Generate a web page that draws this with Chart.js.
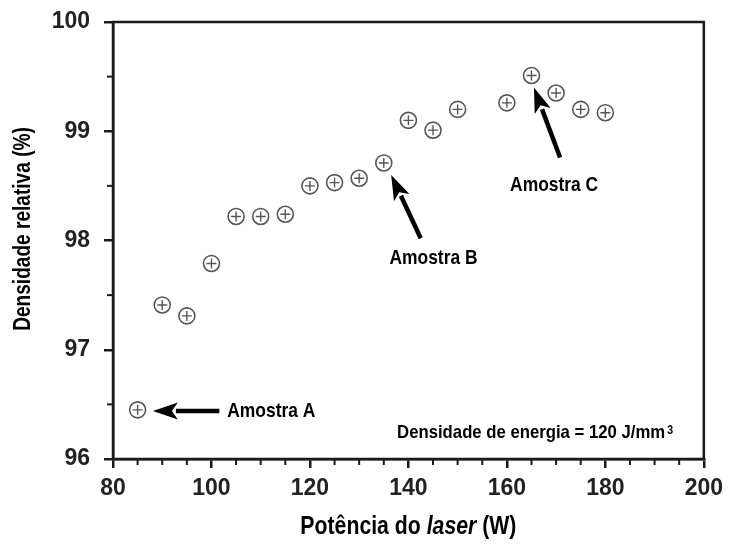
<!DOCTYPE html>
<html>
<head>
<meta charset="utf-8">
<script src="https://cdn.jsdelivr.net/npm/chart.js@4/dist/chart.umd.min.js"></script>
<style>
  html, body { margin: 0; padding: 0; background: #fff; }
  #wrap { width: 730px; height: 547px; }
</style>
</head>
<body>
<div id="wrap"><canvas id="c" width="730" height="547"></canvas></div>
<script>
// ---- data ----
const power   = [85, 90, 95, 100, 105, 110, 115, 120, 125, 130, 135, 140, 145, 150, 160, 165, 170, 175, 180];
const density = [96.45, 97.41, 97.31, 97.79, 98.22, 98.22, 98.24, 98.50, 98.53, 98.57, 98.71, 99.10, 99.01, 99.20, 99.26, 99.51, 99.35, 99.20, 99.17];
const xTicks  = [80, 100, 120, 140, 160, 180, 200];
const yTicks  = [96, 97, 98, 99, 100];
const labels  = ['Amostra A', 'Amostra B', 'Amostra C'];
// annotation anchors in data units: [textX, textY, tipX, tipY, tailX, tailY]
const annotA = [103.2, 96.44, 88.1, 96.44, 101.6, 96.44];
const annotB = [145.1, 97.84, 136.5, 98.60, 142.5, 98.02];
const annotC = [169.6, 98.51, 165.5, 99.40, 170.8, 98.76];
const energyNote = ['Densidade de energia = 120 J/mm', '3'];
const energyPos = [137.7, 96.24];
const xTitle = ['Potência do ', 'laser', ' (W)'];
const yTitle = 'Densidade relativa (%)';

const points = power.map((p, i) => ({ x: p, y: density[i] }));
const FONT = "'Liberation Sans', Arial, sans-serif";
const DARK = '#1a1a1a';

function narrowText(ctx, text, x, y, font, sx, align) {
  ctx.save();
  ctx.font = font;
  ctx.textAlign = align; ctx.textBaseline = 'middle';
  ctx.translate(x, y); ctx.scale(sx, 1);
  ctx.fillText(text, 0, 0);
  const w = ctx.measureText(text).width * sx;
  ctx.restore();
  return w;
}

function arrow(ctx, tx, ty, hx, hy) {
  const ang = Math.atan2(hy - ty, hx - tx);
  const headLen = 25, headHalf = 8.5;
  const bx = hx - headLen * Math.cos(ang), by = hy - headLen * Math.sin(ang);
  ctx.save();
  ctx.strokeStyle = '#000'; ctx.fillStyle = '#000';
  ctx.lineWidth = 4.5; ctx.lineCap = 'butt';
  ctx.beginPath(); ctx.moveTo(tx, ty); ctx.lineTo(bx + 2 * Math.cos(ang), by + 2 * Math.sin(ang)); ctx.stroke();
  ctx.beginPath();
  ctx.moveTo(hx, hy);
  ctx.lineTo(bx + headHalf * Math.sin(ang), by - headHalf * Math.cos(ang));
  ctx.lineTo(bx + 6 * Math.cos(ang), by + 6 * Math.sin(ang));
  ctx.lineTo(bx - headHalf * Math.sin(ang), by + headHalf * Math.cos(ang));
  ctx.closePath(); ctx.fill();
  ctx.restore();
}

const decor = {
  id: 'decor',
  afterDraw(chart) {
    const ctx = chart.ctx, xs = chart.scales.x, ys = chart.scales.y, a = chart.chartArea;
    ctx.save();
    // box
    ctx.strokeStyle = DARK; ctx.lineWidth = 2.5;
    ctx.strokeRect(a.left, a.top, a.right - a.left, a.bottom - a.top);
    // minor ticks
    ctx.lineWidth = 2;
    for (let v = 85; v < 200; v += 5) {
      if (v % 20 === 0) continue;
      const px = xs.getPixelForValue(v);
      ctx.beginPath(); ctx.moveTo(px, a.bottom); ctx.lineTo(px, a.bottom + 6); ctx.stroke();
    }
    for (let v = 96.5; v < 100; v += 1) {
      const py = ys.getPixelForValue(v);
      ctx.beginPath(); ctx.moveTo(a.left, py); ctx.lineTo(a.left - 6, py); ctx.stroke();
    }
    ctx.fillStyle = '#000';
    // annotations
    [annotA, annotB, annotC].forEach((an, i) => {
      arrow(ctx, xs.getPixelForValue(an[4]), ys.getPixelForValue(an[5]),
                 xs.getPixelForValue(an[2]), ys.getPixelForValue(an[3]));
      narrowText(ctx, labels[i], xs.getPixelForValue(an[0]), ys.getPixelForValue(an[1]),
                 'bold 21px ' + FONT, 0.83, i === 0 ? 'left' : 'center');
    });
    // energy note
    const ex = xs.getPixelForValue(energyPos[0]), ey = ys.getPixelForValue(energyPos[1]);
    const w0 = narrowText(ctx, energyNote[0], ex, ey, 'bold 19px ' + FONT, 0.88, 'left');
    narrowText(ctx, energyNote[1], ex + w0 + 2, ey - 2, 'bold 12px ' + FONT, 0.88, 'left');
    // x title
    const sxT = 0.85;
    const parts = [['bold 25px ', xTitle[0]], ['italic bold 25px ', xTitle[1]], ['bold 25px ', xTitle[2]]];
    let total = 0;
    parts.forEach(p => { ctx.font = p[0] + FONT; total += ctx.measureText(p[1]).width * sxT; });
    let cx = (a.left + a.right) / 2 - total / 2;
    const ty = a.bottom + 68;
    parts.forEach(p => { cx += narrowText(ctx, p[1], cx, ty, p[0] + FONT, sxT, 'left'); });
    // y title
    ctx.save();
    ctx.translate(24, 229);
    ctx.rotate(-Math.PI / 2);
    narrowText(ctx, yTitle, 0, 0, 'bold 23px ' + FONT, 0.83, 'center');
    ctx.restore();
    ctx.restore();
  }
};

new Chart(document.getElementById('c'), {
  type: 'scatter',
  data: {
    datasets: [
      { data: points, pointStyle: 'circle', pointRadius: 8, pointBorderWidth: 1.6,
        pointBorderColor: '#555', pointBackgroundColor: 'rgba(255,255,255,0)', showLine: false },
      { data: points, pointStyle: 'cross', pointRadius: 5, pointBorderWidth: 1.4,
        pointBorderColor: '#555', showLine: false }
    ]
  },
  options: {
    responsive: false,
    animation: false,
    events: [],
    layout: { padding: { top: 8, right: 22, left: 0, bottom: 0 } },
    plugins: { legend: { display: false }, tooltip: { enabled: false } },
    scales: {
      x: {
        type: 'linear', min: 80, max: 200,
        afterBuildTicks: s => { s.ticks = xTicks.map(v => ({ value: v })); },
        afterFit: s => { s.height = 88; },
        ticks: { font: { family: FONT, size: 23, weight: 'bold' }, color: '#222', padding: 7, maxRotation: 0 },
        grid: { drawOnChartArea: false, drawTicks: true, tickLength: 9, color: DARK, lineWidth: 2.5 },
        border: { display: true, color: DARK, width: 2.5 }
      },
      y: {
        type: 'linear', min: 96, max: 100,
        afterBuildTicks: s => { s.ticks = yTicks.map(v => ({ value: v })); },
        afterFit: s => { s.width = 113; s.paddingTop = 22; },
        ticks: { font: { family: FONT, size: 23, weight: 'bold' }, color: '#222', padding: 14 },
        grid: { drawOnChartArea: false, drawTicks: true, tickLength: 9, color: DARK, lineWidth: 2.5 },
        border: { display: true, color: DARK, width: 2.5 }
      }
    }
  },
  plugins: [decor]
});
</script>
</body>
</html>
